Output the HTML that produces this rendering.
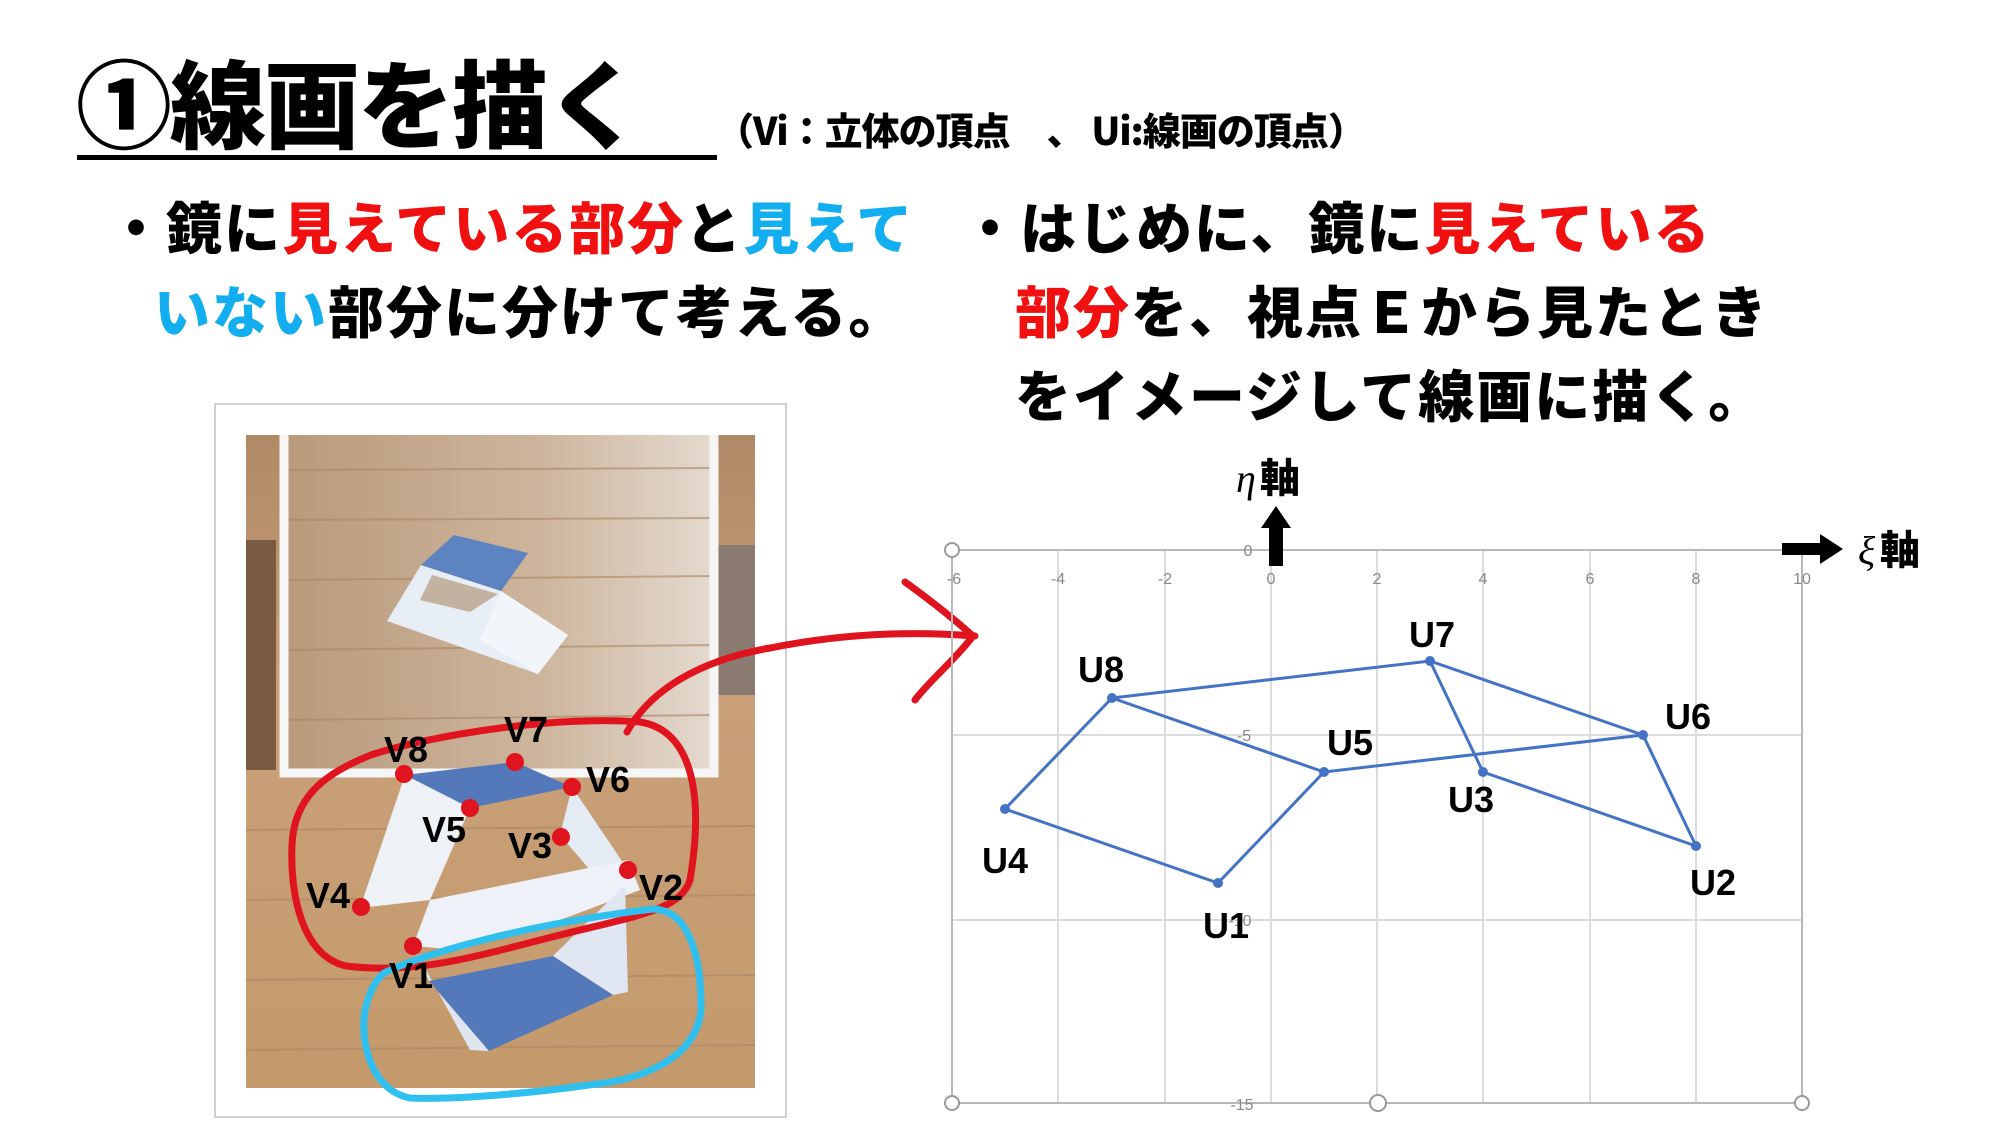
<!DOCTYPE html>
<html><head><meta charset="utf-8">
<style>
html,body{margin:0;padding:0;background:#fff;}
body{width:2000px;height:1125px;position:relative;overflow:hidden;font-family:"Liberation Sans","Noto Sans CJK JP",sans-serif;}
.t{position:absolute;white-space:nowrap;font-family:"Noto Sans CJK JP",sans-serif;font-weight:900;color:#000;line-height:1;}
.r{color:#f01010}.b{color:#12aef0}
</style></head><body>

<div class="t" style="left:76px;top:52px;font-size:96px;letter-spacing:-2px;">①線画を描く</div>
<div style="position:absolute;left:77px;top:155px;width:640px;height:5px;background:#000"></div>
<div class="t" style="left:716px;top:110px;font-size:38px;letter-spacing:-1px;">（Vi：立体の頂点　、 Ui:線画の頂点）</div>

<div class="t" style="left:108px;top:198px;font-size:56px;letter-spacing:2px;">・鏡に<span class="r">見えている部分</span>と<span class="b">見えて</span></div>
<div class="t" style="left:154px;top:282px;font-size:56px;letter-spacing:2px;"><span class="b">いない</span>部分に分けて考える。</div>

<div class="t" style="left:962px;top:198px;font-size:56px;letter-spacing:2px;">・はじめに、鏡に<span class="r">見えている</span></div>
<div class="t" style="left:1015px;top:282px;font-size:56px;letter-spacing:2px;"><span class="r">部分</span>を、視点Ｅから見たとき</div>
<div class="t" style="left:1015px;top:366px;font-size:56px;letter-spacing:2px;">をイメージして線画に描く。</div>

<svg width="2000" height="1125" style="position:absolute;left:0;top:0" xmlns="http://www.w3.org/2000/svg">
<defs>
<linearGradient id="fl" x1="0" y1="0" x2="0" y2="1">
<stop offset="0" stop-color="#b08a66"/><stop offset="0.4" stop-color="#c9a079"/><stop offset="1" stop-color="#c49a6c"/>
</linearGradient>
<linearGradient id="mr" x1="0" y1="0" x2="1" y2="0">
<stop offset="0" stop-color="#b99a7b"/><stop offset="0.6" stop-color="#cdb59d"/><stop offset="1" stop-color="#e4dacf"/>
</linearGradient>
</defs>
<!-- photo frame -->
<rect x="215" y="404" width="571" height="713" fill="#fff" stroke="#d0d0d0" stroke-width="2"/>
<rect x="246" y="435" width="509" height="653" fill="url(#fl)"/>
<rect x="246" y="540" width="30" height="230" fill="#7a5a42"/>
<rect x="710" y="545" width="45" height="150" fill="#8a7a70"/>
<!-- mirror -->
<rect x="284" y="435" width="430" height="338" fill="url(#mr)"/>
<g stroke="#a88665" stroke-width="2" opacity="0.6">
<line x1="284" y1="470" x2="714" y2="468"/><line x1="284" y1="520" x2="714" y2="518"/>
<line x1="284" y1="580" x2="714" y2="576"/><line x1="284" y1="650" x2="714" y2="645"/>
<line x1="284" y1="720" x2="714" y2="715"/>
<line x1="246" y1="830" x2="755" y2="826"/><line x1="246" y1="900" x2="755" y2="895"/>
<line x1="246" y1="980" x2="755" y2="975"/><line x1="246" y1="1050" x2="755" y2="1045"/>
</g>
<path d="M284 435 V773 H714 V435" fill="none" stroke="#f6f6f6" stroke-width="9"/>
<!-- reflection -->
<polygon points="421,565 501,591 568,635 538,674 387,621" fill="#e8eef6"/>
<polygon points="432,575 498,594 470,612 420,600" fill="#c4b2a0"/>
<polygon points="501,591 568,635 538,674 480,640" fill="#f2f5f9"/>
<polygon points="454,535 528,553 501,591 421,565" fill="#5d84c0"/>
<!-- cube -->
<polygon points="405,775 515,762 572,787 470,808" fill="#5479ba"/>
<polygon points="405,775 470,808 430,900 360,908" fill="#eef1f6"/>
<polygon points="572,787 628,870 620,905 560,835" fill="#e4ebf4"/>
<polygon points="430,900 628,860 640,890 560,920 460,950 413,946" fill="#eef2f8"/>
<polygon points="413,946 429,981 489,1051 470,1050" fill="#dfe6f1"/>
<polygon points="553,956 625,885 628,992 613,995" fill="#e0e7f2"/>
<polygon points="429,981 553,956 613,995 489,1051" fill="#5479ba"/>
<!-- red loop -->
<path d="M371,755 C430,735 560,715 640,722 C690,730 705,790 690,880 C680,910 640,915 560,935 C480,955 420,975 346,966 C300,955 290,890 292,845 C294,800 320,775 371,755 Z" fill="none" stroke="#e0141e" stroke-width="7" stroke-linejoin="round"/>
<path d="M627,732 C650,690 700,660 770,648 C830,636 900,630 975,636" fill="none" stroke="#e0141e" stroke-width="7" stroke-linecap="round"/>
<path d="M905,582 C930,600 955,620 973,636 C955,660 930,680 915,700" fill="none" stroke="#e0141e" stroke-width="7" stroke-linecap="round" stroke-linejoin="round"/>
<!-- blue loop -->
<path d="M384,973 C420,955 520,925 653,909 C690,910 702,960 701,1011 C695,1060 640,1080 589,1085 C540,1092 460,1100 410,1098 C370,1090 360,1040 365,1011 C368,995 375,980 384,973 Z" fill="none" stroke="#30c0f0" stroke-width="7"/>
<!-- vertex dots -->
<g fill="#e0141e">
<circle cx="404" cy="774" r="9"/><circle cx="515" cy="762" r="9"/><circle cx="572" cy="787" r="9"/>
<circle cx="470" cy="808" r="9"/><circle cx="561" cy="837" r="9"/><circle cx="628" cy="870" r="9"/>
<circle cx="361" cy="907" r="9"/><circle cx="413" cy="946" r="9"/>
</g>
<g font-family="Liberation Sans, sans-serif" font-weight="bold" font-size="36" fill="#000" text-anchor="middle">
<text x="406" y="762">V8</text><text x="526" y="742">V7</text><text x="608" y="792">V6</text>
<text x="444" y="842">V5</text><text x="530" y="858">V3</text><text x="661" y="900">V2</text>
<text x="328" y="908">V4</text><text x="411" y="988">V1</text>
</g>

<!-- chart -->
<g stroke="#dcdcdc" stroke-width="2">
<line x1="1058" y1="550" x2="1058" y2="1103"/><line x1="1165" y1="550" x2="1165" y2="1103"/>
<line x1="1271" y1="550" x2="1271" y2="1103"/><line x1="1377" y1="550" x2="1377" y2="1103"/>
<line x1="1483" y1="550" x2="1483" y2="1103"/><line x1="1590" y1="550" x2="1590" y2="1103"/>
<line x1="1696" y1="550" x2="1696" y2="1103"/>
<line x1="952" y1="735" x2="1802" y2="735"/><line x1="952" y1="920" x2="1802" y2="920"/>
</g>
<g stroke="#b8b8b8" stroke-width="2">
<line x1="952" y1="550" x2="1802" y2="550"/><line x1="952" y1="1103" x2="1802" y2="1103"/>
<line x1="952" y1="550" x2="952" y2="1103"/><line x1="1802" y1="550" x2="1802" y2="1103"/>
</g>
<g fill="#fff" stroke="#999" stroke-width="2">
<circle cx="952" cy="550" r="7"/><circle cx="952" cy="1103" r="7"/><circle cx="1378" cy="1103" r="8"/><circle cx="1802" cy="1103" r="7"/>
</g>
<g font-family="Liberation Sans, sans-serif" font-size="16" fill="#888" text-anchor="middle">
<text x="954" y="584">-6</text><text x="1058" y="584">-4</text><text x="1165" y="584">-2</text><text x="1271" y="584">0</text>
<text x="1377" y="584">2</text><text x="1483" y="584">4</text><text x="1590" y="584">6</text><text x="1696" y="584">8</text><text x="1802" y="584">10</text>
<text x="1248" y="556">0</text><text x="1244" y="741">-5</text><text x="1240" y="926">-10</text><text x="1242" y="1110">-15</text>
</g>
<g stroke="#4472c4" stroke-width="3" fill="none">
<polyline points="1112,698 1430,661 1643,735 1324,772 1112,698 1005,809 1218,883 1324,772"/>
<polyline points="1430,661 1483,772 1696,846 1643,735"/>
</g>
<g fill="#4472c4">
<circle cx="1112" cy="698" r="5"/><circle cx="1430" cy="661" r="5"/><circle cx="1643" cy="735" r="5"/>
<circle cx="1324" cy="772" r="5"/><circle cx="1483" cy="772" r="5"/><circle cx="1005" cy="809" r="5"/>
<circle cx="1218" cy="883" r="5"/><circle cx="1696" cy="846" r="5"/>
</g>
<g font-family="Liberation Sans, sans-serif" font-weight="bold" font-size="36" fill="#000" text-anchor="middle">
<text x="1101" y="682">U8</text><text x="1432" y="647">U7</text><text x="1688" y="729">U6</text>
<text x="1350" y="755">U5</text><text x="1471" y="812">U3</text><text x="1005" y="873">U4</text>
<text x="1226" y="938">U1</text><text x="1713" y="895">U2</text>
</g>
<!-- axis arrows -->
<polygon points="1269,566 1269,528 1261,528 1276,506 1291,528 1283,528 1283,566" fill="#000"/>
<polygon points="1782,543 1820,543 1820,534 1843,549 1820,564 1820,555 1782,555" fill="#000"/>
<text x="1236" y="492" font-family="Liberation Serif, serif" font-style="italic" font-size="40" fill="#000">η</text>
<text x="1260" y="492" font-family="Noto Sans CJK JP, sans-serif" font-weight="900" font-size="40" fill="#000">軸</text>
<text x="1858" y="564" font-family="Liberation Serif, serif" font-style="italic" font-size="40" fill="#000">ξ</text>
<text x="1880" y="564" font-family="Noto Sans CJK JP, sans-serif" font-weight="900" font-size="40" fill="#000">軸</text>
</svg>
</body></html>
